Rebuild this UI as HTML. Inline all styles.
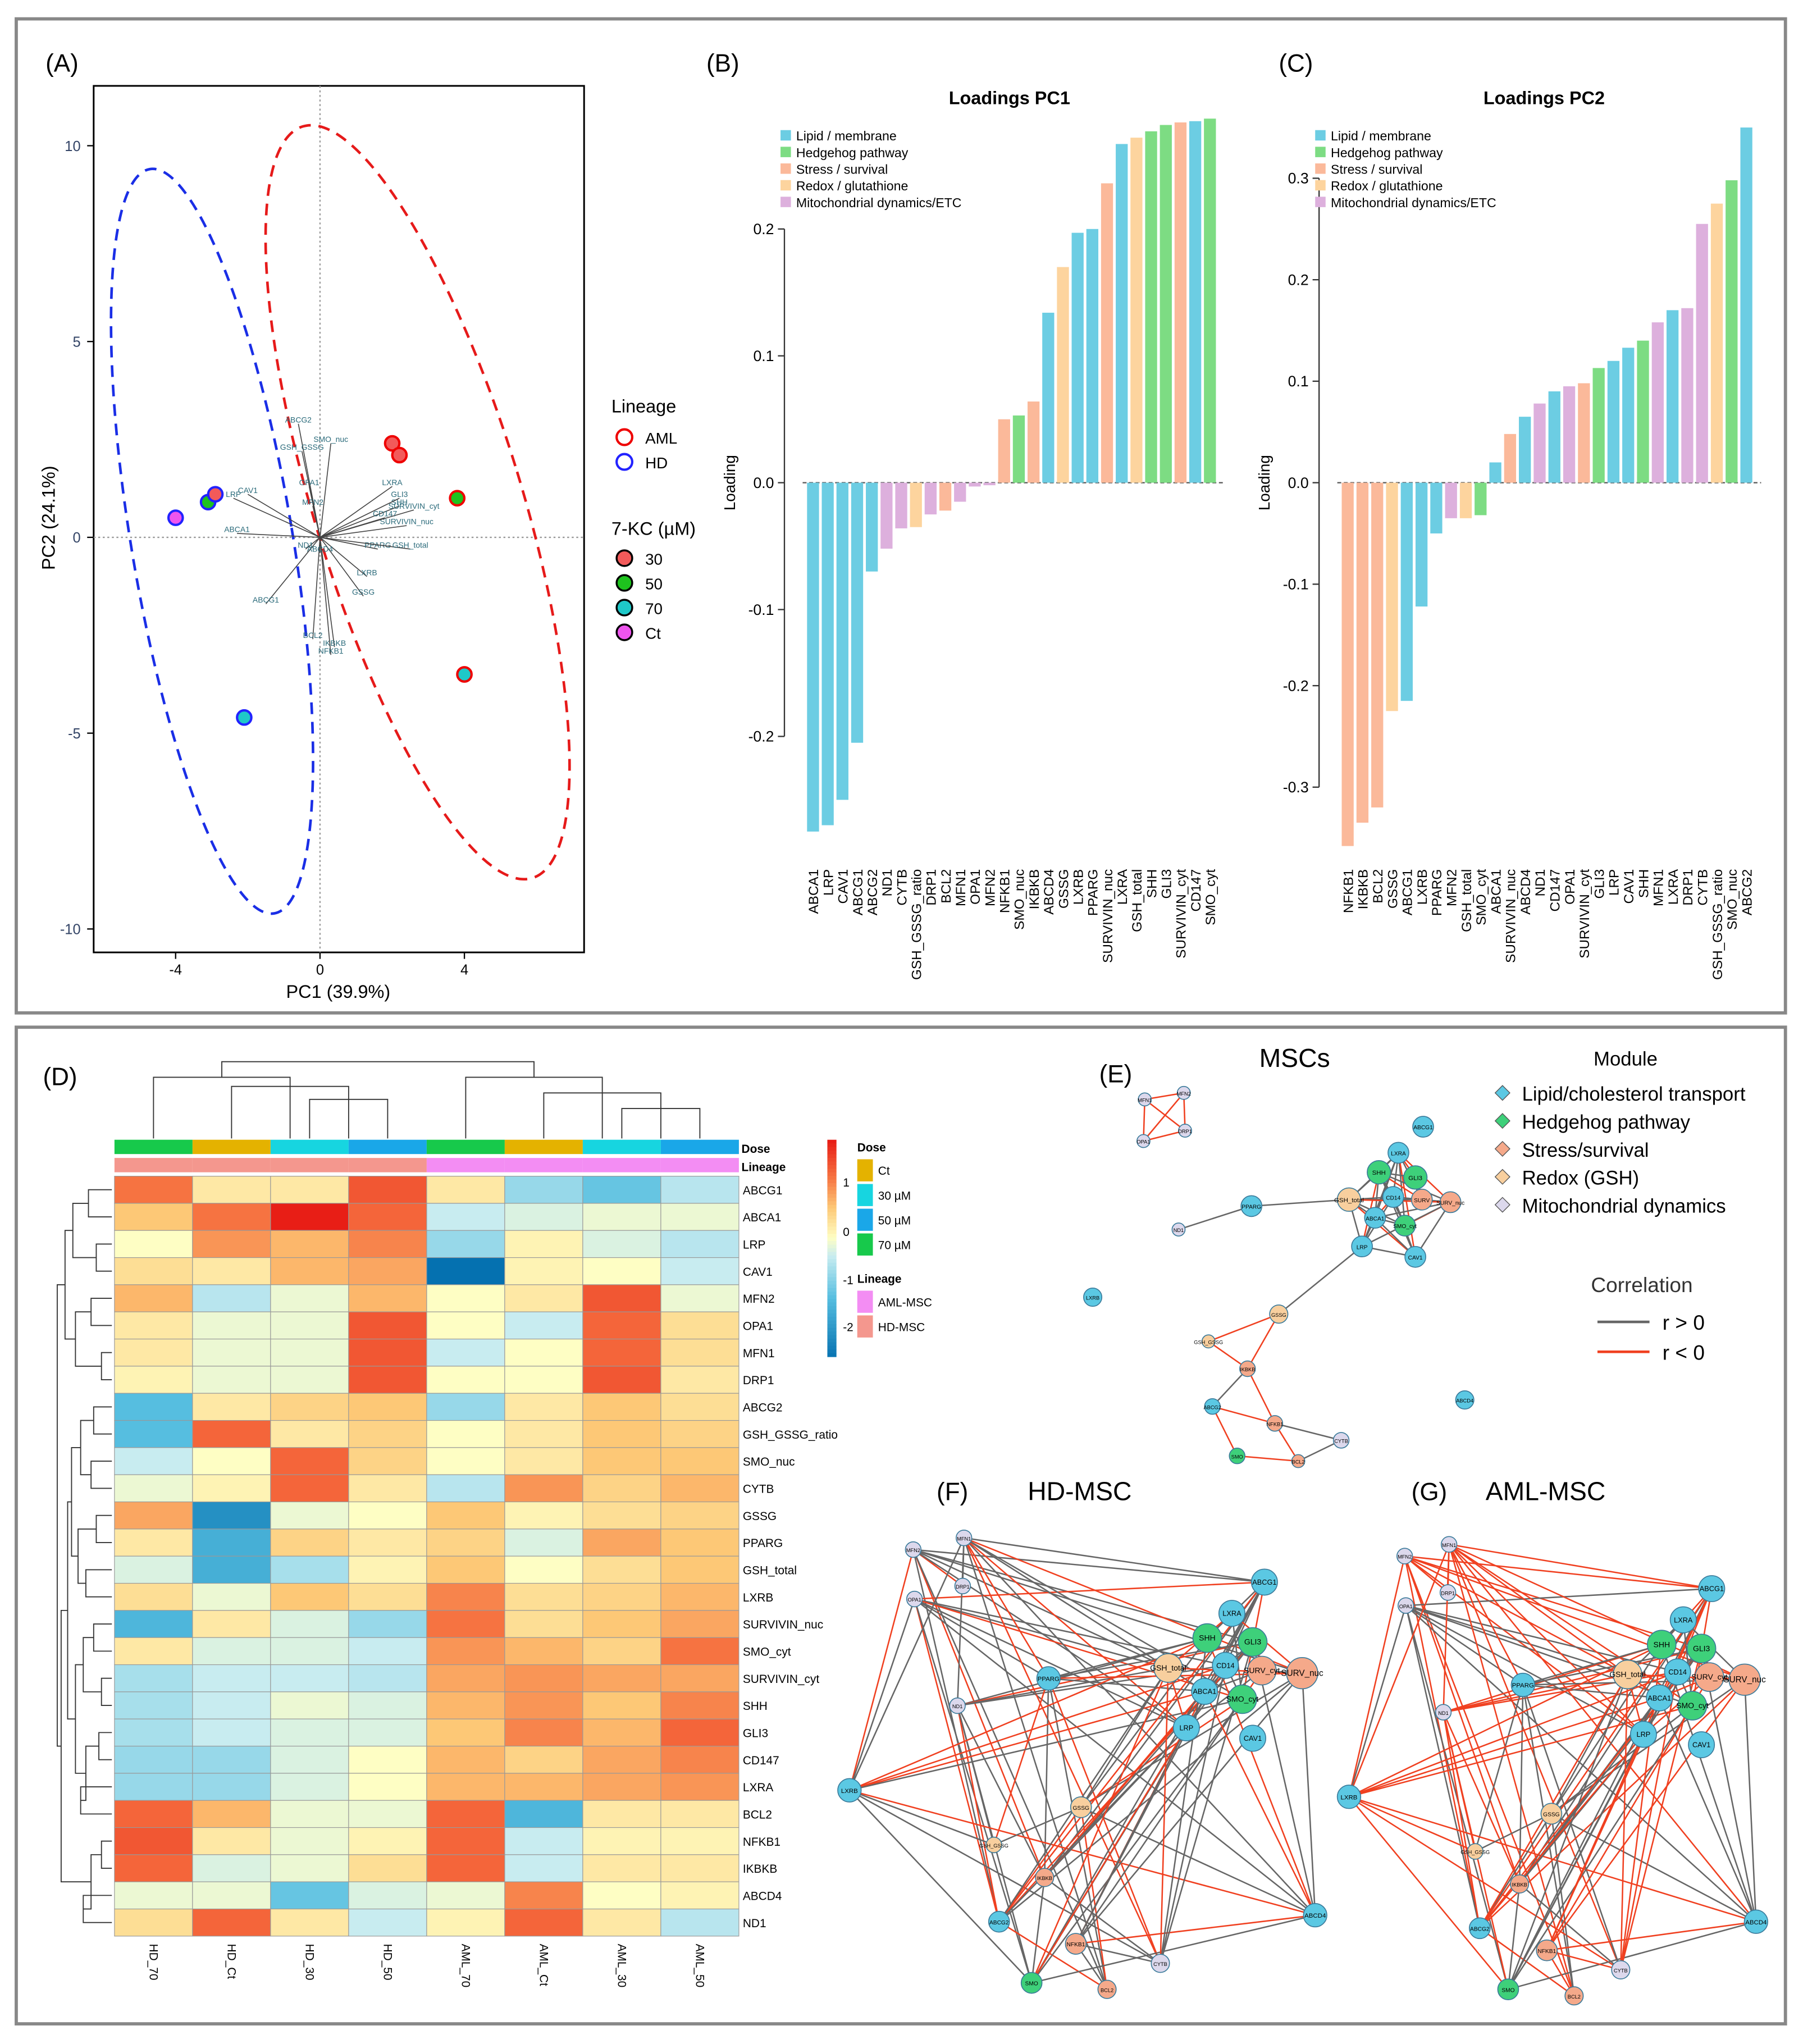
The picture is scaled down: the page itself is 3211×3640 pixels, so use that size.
<!DOCTYPE html>
<html><head><meta charset="utf-8"><style>
html,body{margin:0;padding:0;background:#fff}
svg{display:block}
text{font-family:"Liberation Sans",sans-serif}
</style></head><body>
<svg id="fig" width="3211" height="3640" viewBox="0 0 1386 1571" preserveAspectRatio="none" xmlns="http://www.w3.org/2000/svg">
<rect x="0" y="0" width="1386" height="1571" fill="#fff"/>
<rect x="12.5" y="14.5" width="1360" height="764" fill="none" stroke="#888" stroke-width="2.5"/>
<rect x="12.5" y="789.5" width="1360" height="766" fill="none" stroke="#888" stroke-width="2.5"/>
<g id="gA"></g>
<g id="gB"></g>
<g id="gC"></g>
<g id="gD"></g>
<g id="gE"></g>
</svg>
<script>
// ---------- DATA ----------
const pc1Labels=["ABCA1","LRP","CAV1","ABCG1","ABCG2","ND1","CYTB","GSH_GSSG_ratio","DRP1","BCL2","MFN1","OPA1","MFN2","NFKB1","SMO_nuc","IKBKB","ABCD4","GSSG","LXRB","PPARG","SURVIVIN_nuc","LXRA","GSH_total","SHH","GLI3","SURVIVIN_cyt","CD147","SMO_cyt"];
const pc1Values=[-0.275,-0.27,-0.25,-0.205,-0.07,-0.052,-0.036,-0.035,-0.025,-0.022,-0.015,-0.003,-0.002,0.05,0.053,0.064,0.134,0.17,0.197,0.2,0.236,0.267,0.272,0.277,0.282,0.284,0.285,0.287];
const pc1Groups=["L","L","L","L","L","M","M","R","M","S","M","M","M","S","H","S","L","R","L","L","S","L","R","H","H","S","L","H"];
const pc1Ticks=[-0.2,-0.1,0.0,0.1,0.2];
const pc2Labels=["NFKB1","IKBKB","BCL2","GSSG","ABCG1","LXRB","PPARG","MFN2","GSH_total","SMO_cyt","ABCA1","SURVIVIN_nuc","ABCD4","ND1","CD147","OPA1","SURVIVIN_cyt","GLI3","LRP","CAV1","SHH","MFN1","LXRA","DRP1","CYTB","GSH_GSSG_ratio","SMO_nuc","ABCG2"];
const pc2Values=[-0.358,-0.335,-0.32,-0.225,-0.215,-0.122,-0.05,-0.035,-0.035,-0.032,0.02,0.048,0.065,0.078,0.09,0.095,0.098,0.113,0.12,0.133,0.14,0.158,0.17,0.172,0.255,0.275,0.298,0.35];
const pc2Groups=["S","S","S","R","L","L","L","M","R","H","L","S","L","M","L","M","S","H","L","L","H","M","L","M","M","R","H","L"];
const pc2Ticks=[-0.3,-0.2,-0.1,0.0,0.1,0.2,0.3];
const heatCols=["HD_70","HD_Ct","HD_30","HD_50","AML_70","AML_Ct","AML_30","AML_50"];
const heatDose=["70","Ct","30","50","70","Ct","30","50"];
const heatRows=["ABCG1","ABCA1","LRP","CAV1","MFN2","OPA1","MFN1","DRP1","ABCG2","GSH_GSSG_ratio","SMO_nuc","CYTB","GSSG","PPARG","GSH_total","LXRB","SURVIVIN_nuc","SMO_cyt","SURVIVIN_cyt","SHH","GLI3","CD147","LXRA","BCL2","NFKB1","IKBKB","ABCD4","ND1"];
const heatVals=[
[1.0,0.2,0.2,1.2,0.2,-0.6,-0.9,-0.4],[0.5,1.0,1.6,1.1,-0.3,-0.2,-0.1,-0.1],[0.0,0.8,0.6,0.9,-0.6,0.1,-0.2,-0.4],[0.3,0.2,0.6,0.7,-2.0,0.1,0.0,-0.3],
[0.6,-0.4,-0.1,0.6,0.0,0.2,1.2,-0.1],[0.2,-0.1,-0.1,1.2,0.0,-0.3,1.1,0.3],[0.2,-0.1,-0.1,1.2,-0.3,0.0,1.1,0.3],[0.1,-0.1,-0.1,1.2,0.0,0.0,1.2,0.2],
[-1.0,0.2,0.4,0.5,-0.6,0.2,0.5,0.3],[-1.0,1.1,0.2,0.4,0.0,0.2,0.5,0.4],[-0.3,0.0,1.1,0.4,0.0,0.2,0.5,0.5],[-0.1,0.1,1.1,0.2,-0.4,0.8,0.4,0.6],
[0.7,-1.6,-0.1,0.0,0.5,0.1,0.3,0.4],[0.2,-1.2,0.4,0.2,0.4,-0.2,0.7,0.5],[-0.2,-1.2,-0.5,0.1,0.5,0.0,0.3,0.5],[0.3,-0.1,0.5,0.3,0.9,0.3,0.4,0.6],
[-1.1,0.2,-0.2,-0.6,1.0,0.3,0.5,0.7],[0.2,-0.2,-0.2,-0.3,0.8,0.6,0.4,1.0],[-0.5,-0.3,-0.3,-0.4,0.7,0.8,0.7,0.7],[-0.5,-0.3,-0.1,-0.2,0.6,0.8,0.5,0.9],
[-0.5,-0.3,-0.2,-0.2,0.5,0.9,0.6,1.1],[-0.6,-0.6,-0.2,0.0,0.6,0.4,0.7,0.9],[-0.6,-0.6,-0.2,0.0,0.6,0.6,0.7,0.8],[1.1,0.6,-0.1,-0.1,1.1,-1.1,0.2,0.2],
[1.2,0.2,-0.1,0.1,1.1,-0.3,0.1,0.1],[1.1,-0.2,-0.1,0.3,1.1,-0.3,0.2,0.2],[-0.1,-0.1,-0.9,-0.2,-0.1,0.9,0.0,0.1],[0.3,1.1,0.2,-0.3,0.1,1.1,0.2,-0.4]];
const pcaPC1=[2.0,2.2,3.8,4.0,-4.0,-3.1,-2.9,-2.1];
const pcaPC2=[2.4,2.1,1.0,-3.5,0.5,0.9,1.1,-4.6];
const pcaLineage=["AML","AML","AML","AML","HD","HD","HD","HD"];
const pcaDose=["30","30","50","70","Ct","50","30","70"];

// ---------- helpers ----------
const NS="http://www.w3.org/2000/svg";
function el(p,tag,at,txt){const e=document.createElementNS(NS,tag);for(const k in at)e.setAttribute(k,at[k]);if(txt!==undefined)e.textContent=txt;p.appendChild(e);return e;}
const GC={L:"#6ccde3",H:"#7ddc83",S:"#fbb99a",R:"#fdd49e",M:"#ddb0dd"};
const doseC={"Ct":"#e4b200","30":"#17d5e0","50":"#1aa7e8","70":"#17c94b"};

// ---------- Panel A ----------
(function(){
const g=document.getElementById("gA");
const sx=v=>246+v*27.75, sy=v=>413-v*30.1;
let t=el(g,"text",{x:35,y:55,"font-size":19},"(A)");
let r=el(g,"rect",{x:72,y:66,width:377,height:666,fill:"none",stroke:"#000","stroke-width":1.3});
el(g,"line",{x1:246,y1:66,x2:246,y2:732,stroke:"#999","stroke-dasharray":"1.5 2"});
el(g,"line",{x1:72,y1:413,x2:449,y2:413,stroke:"#999","stroke-dasharray":"1.5 2"});
[-4,0,4].forEach(v=>{el(g,"line",{x1:sx(v),y1:732,x2:sx(v),y2:737,stroke:"#000"});el(g,"text",{x:sx(v),y:749,"font-size":11,"text-anchor":"middle"},String(v));});
[-10,-5,0,5,10].forEach(v=>{el(g,"line",{x1:67,y1:sy(v),x2:72,y2:sy(v),stroke:"#000"});el(g,"text",{x:62,y:sy(v)+4,"font-size":11,"text-anchor":"end",fill:"#346"},String(v));});
t=el(g,"text",{x:260,y:767,"font-size":14,"text-anchor":"middle"},"PC1 (39.9%)");
t=el(g,"text",{x:0,y:0,"font-size":14,"text-anchor":"middle",transform:"translate(42,398) rotate(-90)"},"PC2 (24.1%)");
let e1=el(g,"ellipse",{cx:163,cy:416,rx:62,ry:290,fill:"none",stroke:"#1a2ee6","stroke-width":2,"stroke-dasharray":"9 6",transform:"rotate(-9.5 163 416)"});
let e2=el(g,"ellipse",{cx:321,cy:386,rx:80,ry:302,fill:"none",stroke:"#e61a1a","stroke-width":2,"stroke-dasharray":"9 6",transform:"rotate(-17 321 386)"});
const arrows=[[-0.6,2.9,"ABCG2"],[-0.5,2.2,"GSH_GSSG"],[0.3,2.4,"SMO_nuc"],[-2.0,1.1,"CAV1"],[-2.4,1.0,"LRP"],[-2.3,0.1,"ABCA1"],[-1.5,-1.7,"ABCG1"],[-0.2,-2.6,"BCL2"],[0.4,-2.8,"IKBKB"],[0.3,-3.0,"NFKB1"],[1.3,-1.0,"LXRB"],[1.2,-1.5,"GSSG"],[1.6,-0.3,"PPARG"],[2.5,-0.3,"GSH_total"],[2.0,1.3,"LXRA"],[2.2,0.8,"SHH"],[2.4,0.3,"SURVIVIN_nuc"],[2.6,0.7,"SURVIVIN_cyt"],[-0.3,1.3,"OPA1"],[-0.2,0.8,"MFN2"],[-0.4,-0.3,"ND1"],[0.0,-0.4,"ABCD4"],[1.8,0.5,"CD147"],[2.2,1.0,"GLI3"]];
arrows.forEach(a=>{el(g,"line",{x1:246,y1:413,x2:sx(a[0]),y2:sy(a[1]),stroke:"#444","stroke-width":0.7});el(g,"text",{x:sx(a[0]),y:sy(a[1])-1,"font-size":6,fill:"#2a6a7a","text-anchor":"middle"},a[2]);});
for(let i=0;i<pcaPC1.length;i++){const c=el(g,"circle",{cx:sx(pcaPC1[i]),cy:sy(pcaPC2[i]),r:5.5,fill:({"30":"#f25a5a","50":"#1ec31e","70":"#1ec8c8","Ct":"#ee55ee"})[pcaDose[i]],stroke:pcaLineage[i]=="AML"?"#e00":"#22f","stroke-width":1.8});}
el(g,"text",{x:470,y:317,"font-size":14},"Lineage");
el(g,"circle",{cx:480,cy:336,r:6,fill:"none",stroke:"#e00","stroke-width":1.8});el(g,"text",{x:496,y:341,"font-size":12},"AML");
el(g,"circle",{cx:480,cy:355,r:6,fill:"none",stroke:"#22f","stroke-width":1.8});el(g,"text",{x:496,y:360,"font-size":12},"HD");
el(g,"text",{x:470,y:411,"font-size":14},"7-KC (µM)");
[["30","#f25a5a",429],["50","#1ec31e",448],["70","#1ec8c8",467],["Ct","#ee55ee",486]].forEach(d=>{el(g,"circle",{cx:480,cy:d[2],r:6,fill:d[1],stroke:"#000","stroke-width":1.5});el(g,"text",{x:496,y:d[2]+5,"font-size":12},d[0]);});
})();

// ---------- Panels B,C ----------
function bars(gid,labels,vals,groups,ticks,x0,step,scale,title,tx,panel,px){
const g=document.getElementById(gid);const z=371;const sy=v=>z-v*scale;
let t=el(g,"text",{x:px,y:55,"font-size":19},panel);
t=el(g,"text",{x:tx,y:80,"font-size":14,"font-weight":"bold","text-anchor":"middle"},title);
const axX=x0-22;
el(g,"line",{x1:axX,y1:sy(ticks[0]),x2:axX,y2:sy(ticks[ticks.length-1]),stroke:"#333"});
ticks.forEach(v=>{el(g,"line",{x1:axX-5,y1:sy(v),x2:axX,y2:sy(v),stroke:"#333"});el(g,"text",{x:axX-8,y:sy(v)+4,"font-size":11.5,"text-anchor":"end"},v.toFixed(1));});
t=el(g,"text",{x:0,y:0,"font-size":12,"text-anchor":"middle",transform:`translate(${axX-38},371) rotate(-90)`},"Loading");
el(g,"line",{x1:x0-8,y1:z,x2:x0+step*labels.length,y2:z,stroke:"#555","stroke-dasharray":"3 2"});
for(let i=0;i<labels.length;i++){const cx=x0+i*step;const y=sy(Math.max(vals[i],0)),h=Math.abs(vals[i])*scale;
const b=el(g,"rect",{x:cx-4.6,y:y,width:9.2,height:Math.max(h,0.5),fill:GC[groups[i]]});
el(g,"text",{x:0,y:0,"font-size":10.5,"text-anchor":"end",transform:`translate(${cx+4},668) rotate(-90)`},labels[i]);}
const leg=[["L","Lipid / membrane"],["H","Hedgehog pathway"],["S","Stress / survival"],["R","Redox / glutathione"],["M","Mitochondrial dynamics/ETC"]];
leg.forEach((l,i)=>{const yy=104+i*12.8;el(g,"rect",{x:axX-3,y:yy-4,width:8,height:8,fill:GC[l[0]]});const lt=el(g,"text",{x:axX+9,y:yy+4,"font-size":10},l[1]);});
}
bars("gB",pc1Labels,pc1Values,pc1Groups,pc1Ticks,625,11.3,975,"Loadings PC1",776,"(B)",543);
bars("gC",pc2Labels,pc2Values,pc2Groups,pc2Ticks,1036,11.35,780,"Loadings PC2",1187,"(C)",983);

// ---------- Panel D ----------
(function(){
const g=document.getElementById("gD");
let t=el(g,"text",{x:33,y:834,"font-size":19},"(D)");
const stops=[[-2,[5,113,176]],[-1,[86,190,224]],[-0.3,[200,236,240]],[0,[254,254,196]],[0.5,[253,200,118]],[1,[246,115,65]],[1.6,[232,30,22]]];
function col(v){if(v<=stops[0][0])return `rgb(${stops[0][1]})`;for(let i=1;i<stops.length;i++){if(v<=stops[i][0]){const a=stops[i-1],b=stops[i],f=(v-a[0])/(b[0]-a[0]);return "rgb("+a[1].map((c,k)=>Math.round(c+(b[1][k]-c)*f)).join(",")+")";}}return `rgb(${stops[stops.length-1][1]})`;}
const x0=88,cw=60,y0=904,rh=20.86;
heatCols.forEach((c,j)=>{
el(g,"rect",{x:x0+j*cw,y:876,width:cw,height:11,fill:doseC[heatDose[j]]});
el(g,"rect",{x:x0+j*cw,y:890,width:cw,height:11,fill:j<4?"#f4978e":"#f38df3"});
el(g,"text",{x:0,y:0,"font-size":9,transform:`translate(${x0+j*cw+27},1494) rotate(90)`},c);});
el(g,"text",{x:570,y:886,"font-size":9,"font-weight":"bold"},"Dose");el(g,"text",{x:570,y:900,"font-size":9,"font-weight":"bold"},"Lineage");
heatRows.forEach((r,i)=>{heatVals[i].forEach((v,j)=>{const c=el(g,"rect",{x:x0+j*cw,y:y0+i*rh,width:cw,height:rh,fill:col(v),stroke:"#999","stroke-width":0.5});});
el(g,"text",{x:571,y:y0+i*rh+rh/2+3.5,"font-size":9},r);});
// col dendrogram
const cx=j=>x0+j*cw+30;
const L=(a,b,c,d)=>el(g,"path",{d:`M${a} ${b}V${c}H${d}V${b}`,fill:"none",stroke:"#333","stroke-width":0.8});
L(cx(2),875,845,cx(3));L(cx(1),875,835,(cx(2)+cx(3))/2);
L(cx(0),875,828,(cx(1)+(cx(2)+cx(3))/2)/2);
L(cx(6),875,852,cx(7));L(cx(5),875,840,(cx(6)+cx(7))/2);L(cx(4),875,828,(cx(5)+(cx(6)+cx(7))/2)/2);
el(g,"path",{d:`M${(cx(0)+(cx(1)+(cx(2)+cx(3))/2)/2)/2} 828V816H${(cx(4)+(cx(5)+(cx(6)+cx(7))/2)/2)/2}V828`,fill:"none",stroke:"#333","stroke-width":0.8});
// row dendrogram (simplified)
const ry=i=>y0+i*rh+rh/2;
const R=(y1,y2,x)=>el(g,"path",{d:`M86 ${y1}H${x}V${y2}H86`,fill:"none",stroke:"#333","stroke-width":0.8});
const pairs=[[0,1,68],[2,3,74],[4,5,70],[6,7,78],[8,9,72],[10,11,70],[12,13,74],[14,15,66],[16,17,72],[18,19,78],[20,21,76],[22,23,62],[24,25,78],[26,27,64]];
pairs.forEach(p=>R(ry(p[0]),ry(p[1]),p[2]));
el(g,"path",{d:`M68 ${(ry(0)+ry(1))/2}H56V${(ry(2)+ry(3))/2}H74 M70 ${ry(4.5)}H58V${ry(6.5)}H78 M56 ${ry(1.5)}H50V${ry(5.5)}H58 M72 ${ry(8.5)}H62V${ry(10.5)}H70 M74 ${ry(12.5)}H60V${ry(14.5)}H66 M62 ${ry(9.5)}H55V${ry(13.5)}H60 M72 ${ry(16.5)}H64V${ry(18.5)}H78 M76 ${ry(20.5)}H66V${ry(22.5)}H62 M64 ${ry(17.5)}H58V${ry(21.5)}H66 M55 ${ry(11.5)}H52V${ry(19.5)}H58 M78 ${ry(24.5)}H70V${ry(26.5)}H64 M52 ${ry(15.5)}H47V${ry(25.5)}H70 M50 ${ry(3.5)}H44V${ry(20.5)}H47`,fill:"none",stroke:"#333","stroke-width":0.8});
// color key
const kx=636;for(let k=0;k<60;k++){const v=1.6-k*(3.6/60);el(g,"rect",{x:kx,y:876+k*2.78,width:7,height:3,fill:col(v)});}
[["1",912],["0",950],["-1",987],["-2",1023]].forEach(s=>el(g,"text",{x:648,y:s[1],"font-size":9},s[0]));
el(g,"text",{x:659,y:885,"font-size":9,"font-weight":"bold"},"Dose");
[["Ct","Ct",891],["30","30 µM",910],["50","50 µM",929],["70","70 µM",948]].forEach(d=>{el(g,"rect",{x:659,y:d[2],width:12,height:17,fill:doseC[d[0]]});el(g,"text",{x:675,y:d[2]+12,"font-size":9},d[1]);});
el(g,"text",{x:659,y:986,"font-size":9,"font-weight":"bold"},"Lineage");
el(g,"rect",{x:659,y:992,width:12,height:17,fill:"#f38df3"});el(g,"text",{x:675,y:1004,"font-size":9},"AML-MSC");
el(g,"rect",{x:659,y:1011,width:12,height:17,fill:"#f4978e"});el(g,"text",{x:675,y:1023,"font-size":9},"HD-MSC");
})();

// ---------- Panels E,F,G ----------
(function(){
const g=document.getElementById("gE");
const NC={L:"#5bc8e3",H:"#3ed07a",S:"#f5a98a",R:"#f8cf9e",M:"#dcd8ec"};
const txt=(x,y,s,f,a)=>{const t=el(g,"text",Object.assign({x:x,y:y,"font-size":f},a||{}),s);return t;};
let t=txt(845,832,"(E)",19);
txt(968,820,"MSCs",20);txt(720,1153,"(F)",19);txt(790,1153,"HD-MSC",20);txt(1085,1153,"(G)",19);txt(1142,1153,"AML-MSC",20);
txt(1225,819,"Module",15);
[["L","Lipid/cholesterol transport"],["H","Hedgehog pathway"],["S","Stress/survival"],["R","Redox (GSH)"],["M","Mitochondrial dynamics"]].forEach((m,i)=>{const y=841+i*21.5;el(g,"rect",{x:1151,y:y-5,width:8,height:8,fill:NC[m[0]],stroke:"#555","stroke-width":0.6,transform:`rotate(45 1155 ${y-1})`});const lt=txt(1170,y+5,m[1],15);});
txt(1223,993,"Correlation",16,{fill:"#333"});
el(g,"line",{x1:1228,y1:1016,x2:1268,y2:1016,stroke:"#666","stroke-width":2});txt(1278,1022,"r > 0",16);
el(g,"line",{x1:1228,y1:1039,x2:1268,y2:1039,stroke:"#f04020","stroke-width":2});txt(1278,1045,"r < 0",16);
function node(x,y,r,grp,lab){const c=el(g,"circle",{cx:x,cy:y,r:r,fill:NC[grp],stroke:"#3a7a9a","stroke-width":0.7});el(g,"text",{x:x,y:y+2,"font-size":Math.max(4,r*0.55),"text-anchor":"middle","font-family":"Liberation Serif"},lab);}
function edge(a,b,red){el(g,"line",{x1:a[0],y1:a[1],x2:b[0],y2:b[1],stroke:red?"#f04020":"#666","stroke-width":1.1});}
// E
const E={MFN1:[880,845,5,"M"],OPA1:[879,877,5,"M"],MFN2:[910,840,5,"M"],DRP1:[911,869,5,"M"],ABCG1:[1094,866,8,"L"],LXRA:[1075,886,8,"L"],SHH:[1060,901,9,"H"],GLI3:[1088,905,9,"H"],CD14:[1071,920,8,"L"],GSH_total:[1037,922,9,"R"],SURV:[1093,922,8,"S"],SURV_nuc:[1115,924,8,"S"],ABCA1:[1057,936,8,"L"],SMO_cyt:[1080,942,8,"H"],LRP:[1047,958,8,"L"],CAV1:[1088,966,8,"L"],PPARG:[962,927,8,"L"],ND1:[906,945,5,"M"],LXRB:[840,997,7,"L"],GSSG:[983,1010,7,"R"],GSH_GSSG:[929,1031,5,"R"],IKBKB:[959,1052,6,"S"],ABCG2:[932,1081,6,"L"],NFKB1:[980,1094,6,"S"],BCL2:[998,1123,5,"S"],SMO:[951,1119,6,"H"],CYTB:[1031,1107,6,"M"],ABCD4:[1126,1076,7,"L"]};
const Ee=[["MFN1","OPA1",1],["MFN1","MFN2",1],["MFN1","DRP1",1],["OPA1","DRP1",1],["MFN2","DRP1",1],["OPA1","MFN2",1],["ND1","PPARG",0],["PPARG","GSH_total",0],["LRP","GSSG",0],["GSSG","GSH_GSSG",1],["GSH_GSSG","IKBKB",1],["GSSG","IKBKB",1],["IKBKB","ABCG2",0],["ABCG2","SMO",1],["SMO","BCL2",1],["NFKB1","BCL2",1],["NFKB1","IKBKB",1],["BCL2","CYTB",0],["NFKB1","CYTB",0],["ABCG2","NFKB1",1]];
const cl=["ABCG1","LXRA","SHH","GLI3","CD14","GSH_total","SURV","SURV_nuc","ABCA1","SMO_cyt","LRP","CAV1"];
Ee.forEach(e=>edge(E[e[0]],E[e[1]],e[2]));
for(let i=0;i<cl.length;i++)for(let j=i+1;j<cl.length;j++)if((i*5+j*3)%3!=0)edge(E[cl[i]],E[cl[j]],(i+j)%4==0);
for(const k in E)node(E[k][0],E[k][1],E[k][2],E[k][3],k);
// F & G
const F={MFN2:[702,1191,6,"M"],OPA1:[703,1229,6,"M"],MFN1:[741,1182,6,"M"],DRP1:[740,1219,6,"M"],ND1:[736,1311,6,"M"],PPARG:[806,1290,9,"L"],LXRB:[653,1376,9,"L"],GSSG:[831,1389,8,"R"],GSH_GSSG:[764,1418,6,"R"],IKBKB:[803,1443,7,"S"],ABCG2:[768,1477,8,"L"],SMO:[793,1524,8,"H"],NFKB1:[827,1494,8,"S"],BCL2:[851,1529,7,"S"],CYTB:[892,1509,7,"M"],ABCD4:[1011,1472,9,"L"],ABCG1:[972,1216,10,"L"],LXRA:[947,1240,10,"L"],SHH:[928,1259,11,"H"],GLI3:[963,1262,11,"H"],GSH_total:[898,1282,11,"R"],CD14:[942,1280,10,"L"],SURV_cyt:[970,1284,11,"S"],SURV_nuc:[1001,1286,12,"S"],ABCA1:[926,1300,10,"L"],SMO_cyt:[955,1306,11,"H"],LRP:[912,1328,10,"L"],CAV1:[963,1336,10,"L"]};
const keys=Object.keys(F);
function net(tf,redMod){
const P={};keys.forEach(k=>{P[k]=[tf(F[k][0]),F[k][1]+(tf===id?0:5)];});
for(let i=0;i<keys.length;i++)for(let j=i+1;j<keys.length;j++){const h=(i*13+j*7+i*j)%10;if(h<4)edge(P[keys[i]],P[keys[j]],(i+2*j)%redMod==0);}
keys.forEach(k=>node(P[k][0],P[k][1],F[k][2],F[k][3],k));}
const id=x=>x;
net(id,3);
net(x=>1037+(x-653)*0.874,2);
})();
</script>
</body></html>
